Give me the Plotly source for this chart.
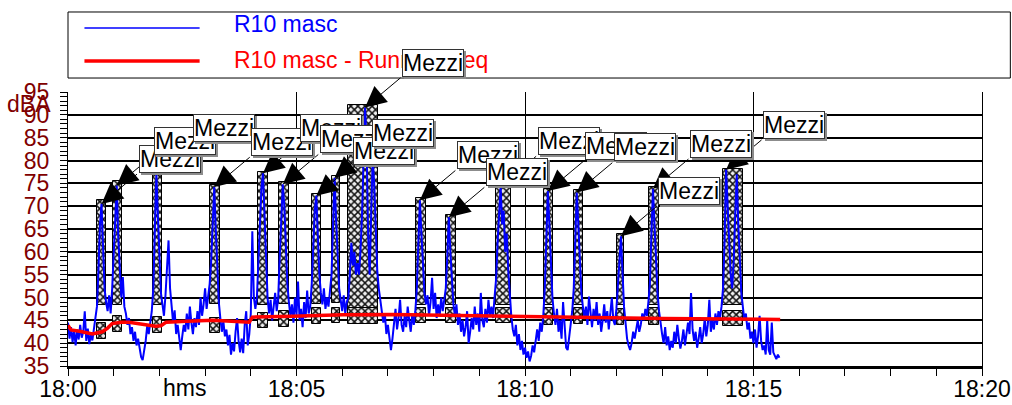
import pandas as pd
import plotly.graph_objects as go

# ---------------- data ----------------
start_time = pd.Timestamp("2024-01-01 18:00:00")
sample_step_s = 2  # blue series sampled every 2 s from 18:00:00

blue_values = [
    # 0-36
    44.5, 41.0, 43.5, 40.2, 42.8, 39.5, 43.0, 40.8, 44.0, 41.2,
    42.5, 47.0, 40.5, 43.2, 39.8, 42.0, 40.6, 43.5, 45.0,
    # E1 38-50
    48, 56, 66, 70.5, 60, 52, 49,
    # 52-56
    47, 50.5, 46.5,
    # E2 58-70
    52, 60, 69, 74.5, 63, 55, 50,
    # 72-100
    54.5, 48, 46.5, 44, 45.5, 42, 43.5, 40.5, 42.5, 39.5, 41, 38.5, 37.0, 36.3, 38.0,
    # 102-110
    40.5, 43.8, 42.0, 44.5, 47.0,
    # E3 112-124
    52, 64, 77.2, 68, 57, 51, 48.5,
    # 126-136
    46, 50.5, 56, 62.5, 52, 47.5,
    # 138-168
    44.5, 47.2, 42, 44, 40.5, 38.5, 41.5, 44, 42.5, 46.5, 43, 48, 44.5, 42, 45.5, 43.5,
    # 170-186
    47, 44, 50, 46, 48.5, 52, 47.5, 50.5, 53,
    # E4 188-200
    58, 67, 74.2, 65, 55, 49, 45.5,
    # 202-240
    42.5, 44.8, 41.5, 43, 39.5, 41.8, 37.5, 40, 38.2, 42.5,
    45.5, 40.5, 38, 41, 37.8, 44, 47, 39.5, 42, 46.5,
    # 242-246
    64.5, 50, 47.5,
    # E5 248-262
    50, 57, 66, 74, 77.2, 68, 56, 50,
    # 264-274
    46.5, 49.5, 45, 48, 51, 47,
    # E6 276-290
    50, 59, 68, 74.8, 70, 60, 53, 49,
    # 292-318
    46, 48.5, 44.5, 50, 46, 53.5, 45, 47.5, 43.5, 49, 45.5, 51.5, 46.5, 48,
    # E7 320-332
    53, 61, 69, 72.3, 63, 55, 51,
    # 334-344
    48.5, 52, 47.5, 50, 48, 51.5,
    # E8 346-358
    55, 66, 76.2, 67, 58, 52, 49.5,
    # 360-366
    47, 50.5, 46.5, 49,
    # E9 368-408
    50, 55, 62, 57, 60, 55, 57.5, 55, 60, 68, 80, 91.6, 84, 64, 55, 70, 80.5, 75, 63, 56, 52,
    # 410-456
    49.5, 47, 44.5, 46.5, 42, 44, 40.5, 38.5, 41, 44.5,
    47.5, 43, 45.5, 49.5, 44, 42.5, 46, 43.5, 48, 45, 42.5, 46.5, 44, 47,
    # E10 458-470
    52, 62, 71.3, 64, 56, 51, 48.5,
    # 472-494
    50.5, 46, 49, 54.3, 47.5, 51, 45.5, 48.5, 46, 50, 47, 49.5,
    # E11 496-508
    52, 59, 67.6, 60, 53, 48.5, 46,
    # 510-560
    48.5, 44, 46.5, 42.5, 45, 41.5, 43.5, 47, 40, 42.5,
    45.5, 43, 48, 44, 46.5, 42.5, 51, 45, 43.5, 47.5,
    44.5, 49.5, 46, 48, 45.5, 50,
    # E12 562-582
    54, 62, 70, 74.4, 66, 69, 60, 64, 56, 50, 46,
    # 584-624
    43, 41.5, 44, 39.5, 42, 38.5, 40.5, 37.5, 39, 36.8,
    38.2, 36, 37.2, 39.5, 38, 41, 43, 40.5, 44.5, 42.5, 46,
    # E13 626-638
    52, 63, 73.3, 66, 57, 50, 46.5,
    # 640-662
    44, 47.5, 42.5, 45, 41, 49, 43, 39, 38.5, 41.5, 44.5, 47,
    # E14 664-676
    52, 63, 73, 66, 57, 51, 48,
    # 678-720
    45.5, 48, 44, 50.2, 46, 43.5, 47.5, 45, 49, 44,
    46.5, 42.5, 45, 48.5, 44.5, 47, 43, 46, 50, 45, 44, 47.5,
    # E15 722-730
    52, 58, 63.4, 55, 48,
    # 732-762
    44.5, 41, 39.5, 38.5, 40, 42.5, 41, 43.5, 45, 42.5, 44, 46.5, 45, 47.5, 46, 49,
    # E16 764-776
    53, 64, 73.8, 66, 57, 51, 47,
    # 778-858
    44, 42, 40, 43.5, 39.5, 41.5, 38.5, 40.5, 39, 42.5,
    40, 44, 41, 38.8, 40.5, 43, 39.5, 41.5, 44.5, 42,
    51, 43, 40.5, 42.5, 39, 41, 43.5, 40, 42, 45.5,
    41.5, 44, 49.5, 42.5, 45, 43, 46.5, 44, 47, 45.5, 48,
    # E17 860-886
    52, 62, 78, 70, 60, 55, 52, 58, 68, 77, 66, 57, 51, 48,
    # 888-934
    45, 46.5, 43, 44.5, 41, 42.5, 40, 43, 39, 41.5,
    46, 40.5, 38.5, 39.5, 37.5, 45, 38.5, 37.5, 44.5, 38,
    37, 36.5, 37.5, 36.8,
]

# Running Leq (seconds after 18:00, dBA)
leq_seconds = [0, 4, 15, 32, 45, 52, 58, 70, 80, 103, 115, 122, 129, 156, 190,
               238, 242, 295, 361, 426, 500, 625, 780, 935]
leq_values = [43.9, 42.9, 42.6, 42.0, 42.5, 43.3, 44.3, 44.6, 44.6, 43.9, 43.7, 43.8, 44.6, 44.8, 45.0,
              44.6, 45.7, 45.9, 46.2, 46.3, 46.1, 45.7, 45.4, 45.2]

# "Mezzi" events (seconds after 18:00)
ev_start = [37.5, 58.5, 111, 187, 249, 277, 320, 346, 367, 457, 496, 562, 625, 664, 721, 763, 860]
ev_end = [49.3, 70.3, 123, 199, 262, 290, 332, 357, 407, 470, 509, 581, 637, 676, 730, 776, 886]
ev_top = [71.3, 75.5, 77.9, 74.6, 77.5, 75.3, 72.7, 76.6, 92.1, 71.7, 68.0, 74.8, 73.7, 73.5, 63.9, 74.2, 78.1]
ev_mid = [48.3, 48.3, 48.3, 48.5, 48.3, 48.5, 48.5, 48.7, 47.8, 48.3, 48.3, 48.3, 48.3, 48.3, 48.3, 48.3, 48.3]
ev_low_bot = [41.0, 42.5, 42.2, 42.2, 43.3, 43.5, 44.1, 44.4, 44.1, 44.4, 44.4, 44.4, 44.0, 44.1, 44.0, 44.0, 43.7]
ev_low_top = [44.4, 45.9, 45.7, 45.5, 46.6, 47.0, 47.6, 47.6, 47.8, 47.8, 47.8, 47.8, 47.6, 47.6, 47.4, 47.6, 47.0]
ev_label = "Mezzi"

y_ticks = [35, 40, 45, 50, 55, 60, 65, 70, 75, 80, 85, 90, 95]
x_tick_minutes = [0, 5, 10, 15, 20]

series_name = "R10 masc"
leq_name = "R10 masc - Running Leq"

# ---------------- build ----------------
def ts(sec):
    return start_time + pd.Timedelta(seconds=float(sec))

blue_t = [ts(i * sample_step_s) for i in range(len(blue_values))]
leq_t = [ts(s) for s in leq_seconds]

FONT = "Liberation Sans, Arial, sans-serif"
DARKRED = "#800000"
FS = 23

fig = go.Figure()

pattern = dict(shape="x", fgcolor="#111111", bgcolor="#eeeeee", size=5, solidity=0.5, fillmode="replace")

centers = [ts((a + b) / 2) for a, b in zip(ev_start, ev_end)]
widths = [(b - a) * 1000 for a, b in zip(ev_start, ev_end)]

fig.add_trace(go.Bar(
    x=centers, y=[t - m for t, m in zip(ev_top, ev_mid)], base=ev_mid, width=widths,
    marker=dict(color="#eeeeee", pattern=pattern, line=dict(color="#000000", width=1)),
    showlegend=False, hoverinfo="skip"))
fig.add_trace(go.Bar(
    x=centers, y=[t - b for t, b in zip(ev_low_top, ev_low_bot)], base=ev_low_bot, width=widths,
    marker=dict(color="#eeeeee", pattern=pattern, line=dict(color="#000000", width=1)),
    showlegend=False, hoverinfo="skip"))

fig.add_trace(go.Scatter(x=blue_t, y=blue_values, mode="lines", name=series_name,
                         line=dict(color="#0000ff", width=2), showlegend=False))
fig.add_trace(go.Scatter(x=leq_t, y=leq_values, mode="lines", name=leq_name,
                         line=dict(color="#ff0000", width=3.5), showlegend=False))

annotations = []
tips = []
for a, b in zip(ev_start, ev_end):
    idx = [i for i in range(len(blue_values)) if a <= i * sample_step_s <= b]
    best = max(idx, key=lambda i: blue_values[i])
    tips.append((blue_t[best], blue_values[best]))

for (tx, ty) in tips:
    annotations.append(dict(x=tx, y=ty, xref="x", yref="y", text="", showarrow=True,
                            ax=37, ay=-31, arrowhead=2, arrowsize=4.2, arrowwidth=1,
                            arrowcolor="black", standoff=0, startstandoff=0))
for (tx, ty) in tips:
    annotations.append(dict(x=tx, y=ty, xref="x", yref="y", text=ev_label, showarrow=False,
                            xanchor="left", yanchor="bottom", xshift=39, yshift=29,
                            bgcolor="#8c8c8c", bordercolor="#8c8c8c", borderwidth=1, borderpad=0,
                            font=dict(family=FONT, size=FS, color="#8c8c8c")))
    annotations.append(dict(x=tx, y=ty, xref="x", yref="y", text=ev_label, showarrow=False,
                            xanchor="left", yanchor="bottom", xshift=37, yshift=31,
                            bgcolor="white", bordercolor="#333333", borderwidth=1, borderpad=0,
                            font=dict(family=FONT, size=FS, color="black")))

legend_ann = [
    dict(x=0.179, y=1.248, xref="paper", yref="paper", text=series_name, showarrow=False,
         xanchor="left", yanchor="middle", font=dict(family=FONT, size=FS, color="#0000ff")),
    dict(x=0.179, y=1.117, xref="paper", yref="paper", text=leq_name, showarrow=False,
         xanchor="left", yanchor="middle", font=dict(family=FONT, size=FS, color="#ff0000")),
    dict(x=-0.0432, y=0.956, xref="paper", yref="paper", text="dBA", showarrow=False,
         xanchor="center", yanchor="middle", font=dict(family=FONT, size=FS, color=DARKRED)),
    dict(x=0.1275, y=-0.082, xref="paper", yref="paper", text="hms", showarrow=False,
         xanchor="center", yanchor="middle", font=dict(family=FONT, size=FS, color="black")),
]
annotations = legend_ann + annotations

shapes = [
    dict(type="rect", xref="paper", yref="paper", x0=0.0, x1=1.031, y0=1.051, y1=1.292,
         line=dict(color="black", width=1), fillcolor="rgba(0,0,0,0)"),
    dict(type="line", xref="paper", yref="paper", x0=0.018, x1=0.144, y0=1.2336, y1=1.2336,
         line=dict(color="#0000ff", width=1.5)),
    dict(type="line", xref="paper", yref="paper", x0=0.018, x1=0.144, y0=1.113, y1=1.113,
         line=dict(color="#ff0000", width=3.5)),
]

fig.update_layout(
    width=1012, height=405,
    margin=dict(l=68, r=30, t=92, b=39, autoexpand=False),
    paper_bgcolor="white", plot_bgcolor="white",
    barmode="overlay", bargap=0,
    showlegend=False,
    annotations=annotations, shapes=shapes,
    font=dict(family=FONT, size=FS, color="black"),
)
fig.update_xaxes(
    type="date", range=[ts(0), ts(1200)],
    tickvals=[ts(m * 60) for m in x_tick_minutes],
    ticktext=[ts(m * 60).strftime("%H:%M") for m in x_tick_minutes],
    ticks="outside", ticklen=7, tickcolor="black", tickwidth=1,
    minor=dict(dtick=60000, tick0=ts(0), ticks="outside", ticklen=7, tickcolor="black", showgrid=False),
    showgrid=True, gridcolor="black", gridwidth=1,
    showline=True, linecolor="black", linewidth=2.5, mirror=False,
    tickfont=dict(family=FONT, size=FS, color="black"),
    ticklabelstandoff=-6,
    automargin=False, zeroline=False,
)
fig.update_yaxes(
    range=[35, 95], tickvals=y_ticks,
    ticks="outside", ticklen=7, tickcolor="black",
    minor=dict(dtick=1, ticks="outside", ticklen=7, tickcolor="black", showgrid=False),
    showgrid=True, gridcolor="black", gridwidth=1.5,
    showline=True, linecolor="black", linewidth=1, mirror=True,
    tickfont=dict(family=FONT, size=FS, color=DARKRED),
    ticklabelstandoff=6,
    automargin=False, zeroline=False,
)

fig.write_html("out.html")
